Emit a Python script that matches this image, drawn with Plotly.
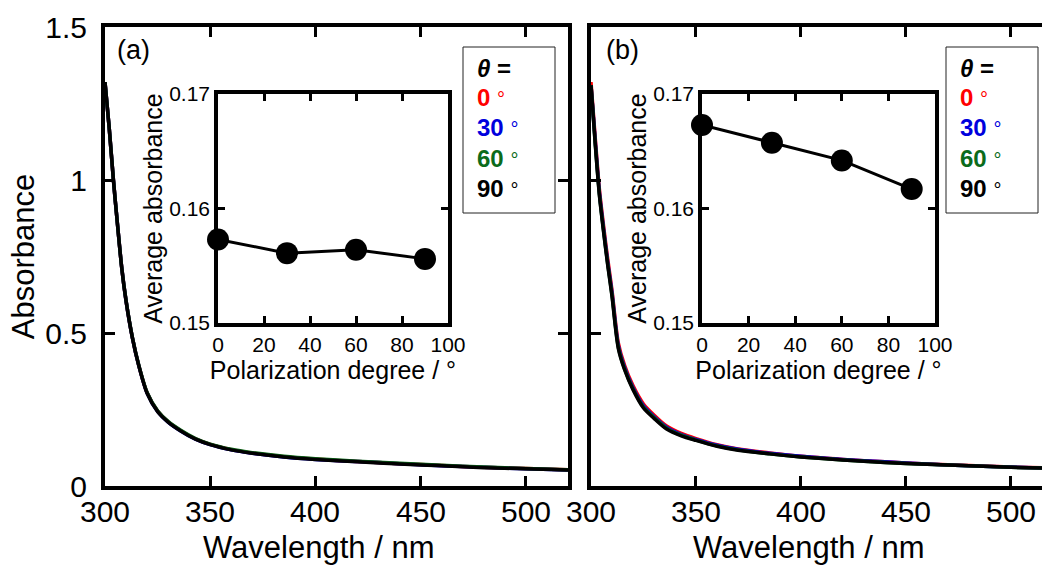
import plotly.graph_objects as go

# ---- spectra (wavelength in nm, absorbance) ----
wl = [300, 302, 304, 306, 308, 310, 313, 316, 320, 325, 330, 336, 343, 350,
      360, 370, 385, 400, 420, 440, 460, 480, 500, 520]

# sample (a)
abs_a_0 = [1.32, 1.17, 1.00, 0.85, 0.71, 0.605, 0.485, 0.395, 0.305, 0.245, 0.210, 0.181, 0.154, 0.136,
           0.119, 0.108, 0.096, 0.088, 0.080, 0.073, 0.067, 0.061, 0.057, 0.053]
abs_a_30 = [1.32, 1.17, 1.00, 0.85, 0.71, 0.605, 0.485, 0.395, 0.304, 0.244, 0.209, 0.180, 0.153, 0.135,
            0.118, 0.107, 0.095, 0.087, 0.080, 0.073, 0.066, 0.061, 0.056, 0.052]
abs_a_60 = [1.32, 1.17, 1.00, 0.85, 0.71, 0.606, 0.486, 0.396, 0.306, 0.246, 0.211, 0.182, 0.155, 0.137,
            0.120, 0.109, 0.097, 0.089, 0.081, 0.074, 0.068, 0.062, 0.057, 0.053]
abs_a_90 = [1.32, 1.17, 1.00, 0.85, 0.71, 0.605, 0.485, 0.395, 0.303, 0.243, 0.209, 0.180, 0.153, 0.135,
            0.118, 0.107, 0.095, 0.087, 0.079, 0.072, 0.066, 0.060, 0.056, 0.052]

# sample (b)
abs_b_0 = [1.32, 1.14, 0.97, 0.85, 0.74, 0.640, 0.468, 0.394, 0.328, 0.268, 0.232, 0.196, 0.172, 0.155,
           0.135, 0.121, 0.108, 0.097, 0.087, 0.079, 0.072, 0.067, 0.062, 0.059]
abs_b_30 = [1.31, 1.13, 0.96, 0.84, 0.73, 0.632, 0.460, 0.388, 0.322, 0.262, 0.227, 0.192, 0.168, 0.152,
            0.133, 0.120, 0.107, 0.097, 0.087, 0.079, 0.072, 0.066, 0.062, 0.058]
abs_b_60 = [1.31, 1.12, 0.953, 0.833, 0.723, 0.624, 0.454, 0.383, 0.318, 0.258, 0.224, 0.189, 0.166, 0.150,
            0.131, 0.118, 0.105, 0.095, 0.085, 0.077, 0.071, 0.066, 0.061, 0.058]
abs_b_90 = [1.31, 1.12, 0.95, 0.83, 0.72, 0.620, 0.450, 0.380, 0.315, 0.255, 0.221, 0.186, 0.164, 0.149,
            0.130, 0.117, 0.105, 0.095, 0.085, 0.077, 0.071, 0.066, 0.061, 0.058]

# ---- averaged absorbance vs polarization angle ----
pol_deg = [0, 30, 60, 90]
avg_a = [0.1573, 0.1561, 0.1564, 0.1556]
avg_b = [0.1673, 0.16575, 0.1642, 0.1617]

wl_ticks = [300, 350, 400, 450, 500]
theta_labels = ["0", "30", "60", "90"]
theta_colors = ["#ff0000", "#0000dd", "#0b6b1b", "#000000"]

W, H = 1042, 569
FONT = "Liberation Sans, Arial, sans-serif"


def fx(px):
    return px / W


def fy(py):
    return 1 - py / H


fig = go.Figure()

spectra_a = [abs_a_0, abs_a_30, abs_a_60, abs_a_90]
spectra_b = [abs_b_0, abs_b_30, abs_b_60, abs_b_90]

for vals, col in zip(spectra_a, theta_colors):
    fig.add_trace(go.Scatter(x=wl, y=vals, mode="lines", xaxis="x", yaxis="y",
                             line=dict(color=col, width=3.5, shape="spline", smoothing=0.8),
                             showlegend=False))
for vals, col in zip(spectra_b, theta_colors):
    fig.add_trace(go.Scatter(x=wl, y=vals, mode="lines", xaxis="x3", yaxis="y3",
                             line=dict(color=col, width=3.5, shape="spline", smoothing=0.8),
                             showlegend=False))

for avg, xa, ya in [(avg_a, "x2", "y2"), (avg_b, "x4", "y4")]:
    fig.add_trace(go.Scatter(x=pol_deg, y=avg, mode="lines+markers", xaxis=xa, yaxis=ya,
                             line=dict(color="black", width=3),
                             marker=dict(color="black", size=22),
                             cliponaxis=False, showlegend=False))

main_common = dict(showline=True, linewidth=4, linecolor="black", ticks="inside",
                   ticklen=10, tickwidth=3, tickcolor="black", showgrid=False,
                   zeroline=False, automargin=False,
                   tickfont=dict(size=30, color="black", family=FONT))
inset_common = dict(showline=True, linewidth=3.5, linecolor="black", ticks="inside",
                    ticklen=7, tickwidth=3, tickcolor="black", showgrid=False,
                    zeroline=False, mirror="ticks", automargin=False,
                    tickfont=dict(size=21, color="black", family=FONT))

title_main = dict(size=31, color="black", family=FONT)
title_inset = dict(size=25, color="black", family=FONT)

fig.update_layout(
    width=W, height=H,
    margin=dict(l=0, r=0, t=0, b=0),
    paper_bgcolor="white", plot_bgcolor="white",
    font=dict(family=FONT, color="black"),
    # main panel (a)
    xaxis=dict(domain=[fx(105), fx(568)], range=[300, 520], tickvals=wl_ticks,
               showticklabels=False, mirror="ticks", anchor="y", **main_common),
    yaxis=dict(domain=[fy(486), fy(27)], range=[0, 1.5], tickvals=[0, 0.5, 1, 1.5],
               mirror="ticks", anchor="x", ticklabelstandoff=8,
               title=dict(text="Absorbance", font=title_main, standoff=2), **main_common),
    # inset (a)
    xaxis2=dict(domain=[fx(218), fx(448)], range=[0, 100], tickvals=[0, 20, 40, 60, 80, 100],
                anchor="y2",
                title=dict(text="Polarization degree / °", font=title_inset, standoff=1),
                **inset_common),
    yaxis2=dict(domain=[fy(323), fy(94)], range=[0.15, 0.17], tickvals=[0.15, 0.16, 0.17],
                tickformat=".2f", anchor="x2",
                title=dict(text="Average absorbance", font=title_inset, standoff=0), **inset_common),
    # main panel (b)
    xaxis3=dict(domain=[fx(591), 1.0], range=[300, 514.8], tickvals=wl_ticks,
                showticklabels=False, mirror="ticks", anchor="y3", **main_common),
    yaxis3=dict(domain=[fy(486), fy(27)], range=[0, 1.5], tickvals=[0, 0.5, 1, 1.5],
                showticklabels=False, mirror=False, anchor="x3", **main_common),
    # inset (b)
    xaxis4=dict(domain=[fx(702), fx(935)], range=[0, 100], tickvals=[0, 20, 40, 60, 80, 100],
                anchor="y4",
                title=dict(text="Polarization degree / °", font=title_inset, standoff=1),
                **inset_common),
    yaxis4=dict(domain=[fy(323), fy(94)], range=[0.15, 0.17], tickvals=[0.15, 0.16, 0.17],
                tickformat=".2f", anchor="x4",
                title=dict(text="Average absorbance", font=title_inset, standoff=0), **inset_common),
)

# wavelength tick labels, placed on each panel's x scale
for xref in ["x", "x3"]:
    for v in wl_ticks:
        fig.add_annotation(text=str(v), x=v, y=fy(512), xref=xref, yref="paper",
                           xanchor="center", yanchor="middle", showarrow=False,
                           font=dict(size=30, color="black", family=FONT))

# wavelength axis titles
for cx in [318, 808]:
    fig.add_annotation(text="Wavelength / nm", x=fx(cx), y=fy(547), xref="paper", yref="paper",
                       xanchor="center", yanchor="middle", showarrow=False, font=title_main)

# panel letters
for label, px in [("(a)", 115), ("(b)", 604)]:
    fig.add_annotation(text=label, x=fx(px), y=fy(50), xref="paper", yref="paper",
                       xanchor="left", yanchor="middle", showarrow=False,
                       font=dict(size=27, color="black", family=FONT))

# angle key boxes
for left in [463, 946]:
    fig.add_shape(type="rect", xref="paper", yref="paper",
                  x0=fx(left), x1=fx(left + 92), y0=fy(213), y1=fy(47),
                  line=dict(color="#222222", width=1), fillcolor="white")
    fig.add_annotation(text="<b><i>θ</i> =</b>", x=fx(left + 12), y=fy(68),
                       xref="paper", yref="paper", xanchor="left", yanchor="middle",
                       showarrow=False, font=dict(size=24, color="black", family=FONT))
    for i, (lab, col) in enumerate(zip(theta_labels, theta_colors)):
        fig.add_annotation(text=f"<b>{lab}</b> <span style='font-size:20px'>°</span>",
                           x=fx(left + 12), y=fy(98 + 30 * i),
                           xref="paper", yref="paper", xanchor="left", yanchor="middle",
                           showarrow=False, font=dict(size=24, color=col, family=FONT))

fig.write_html("out.html")
